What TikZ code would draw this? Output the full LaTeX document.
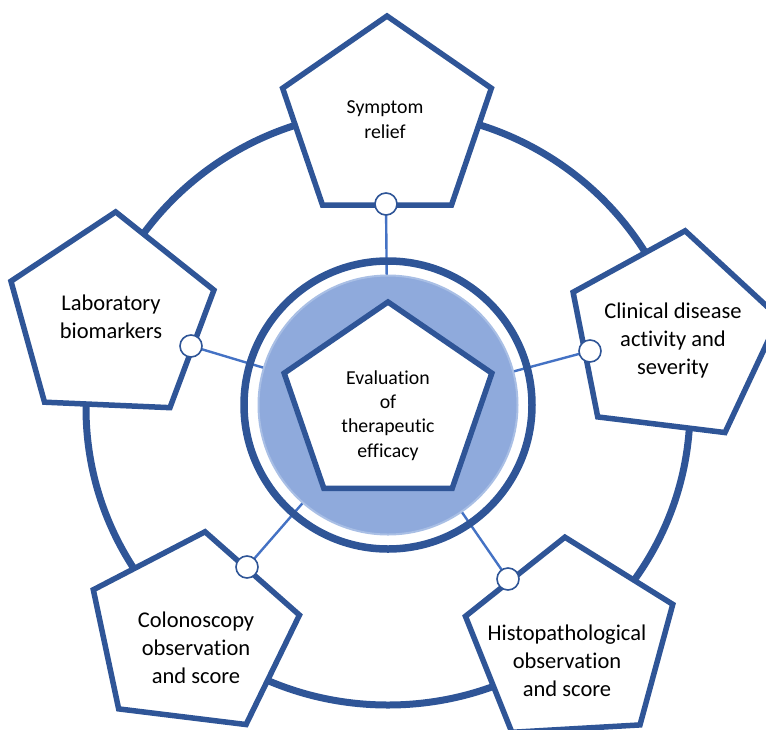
\documentclass[tikz,border=0pt]{standalone}
\usepackage{fontspec}
\setmainfont{Carlito}[Ligatures={NoCommon}]
\usetikzlibrary{shapes.geometric}
\definecolor{ringblue}{HTML}{2F5597}
\definecolor{linkblue}{HTML}{4472C4}
\definecolor{diskblue}{HTML}{8FAADC}
\definecolor{diskrim}{HTML}{A9BFE5}

\begin{document}
\begin{tikzpicture}[x=1pt,y=-1pt,
  pent/.style={regular polygon, regular polygon sides=5, draw=ringblue,
    line width=5.5pt, fill=white, inner sep=0pt, line join=miter},
  knob/.style={circle, draw=ringblue, line width=1.6pt, fill=white,
    minimum size=22pt, inner sep=0pt},
  link/.style={draw=linkblue, line width=2.4pt},
  bigtxt/.style={font=\fontsize{22.5}{28}\selectfont, align=center, inner sep=0pt},
  smalltxt/.style={font=\fontsize{19.8}{24.4}\selectfont, align=center, inner sep=0pt}]

\useasboundingbox (0,0) rectangle (766,729);
\coordinate (hub) at (388,405);

% outer ring joining the five satellites
\draw[ringblue, line width=7pt] (388,408) ellipse [x radius=302, y radius=297];

% spokes from the satellites to the hub
\coordinate (kTop) at (386,204);
\coordinate (kLab) at (191,346);
\coordinate (kCli) at (590,351);
\coordinate (kHis) at (508,579);
\coordinate (kCol) at (247,567);
\foreach \k in {kTop,kLab,kCli,kHis,kCol} \draw[link] (\k) -- (hub);

% central disk and its ring
\node (disk) at (hub) [circle, fill=diskblue, draw=diskrim, line width=2pt,
  minimum size=259pt, inner sep=0pt] {};
\draw[ringblue, line width=7.5pt] (hub) circle [radius=144];

% central pentagon
\node (core) at (388,405) [pent, minimum size=206pt, xscale=1.06, transform shape] {};

% satellite pentagons
\node (sym) at (387,120.5) [pent, minimum size=209pt, xscale=1.05, transform shape] {};
\node (lab) at (111,318.6) [pent, minimum size=213.6pt, rotate=-2.5, transform shape] {};
\node (cli) at (672,338) [pent, minimum size=216pt, rotate=-7, xscale=1.01, transform shape] {};
\node (his) at (571,643) [pent, minimum size=212pt, rotate=3.3, xscale=1.03, transform shape] {};
\node (col) at (192.5,634) [pent, minimum size=206pt, rotate=-7, xscale=1.06, transform shape] {};

% joints where the spokes meet the satellites
\foreach \k in {kTop,kLab,kCli,kHis,kCol} \node[knob] (n\k) at (\k) {};

% labels
\node[smalltxt] (tSym) at (385,119.5) {Symptom\\relief};
\node[bigtxt] (tLab) at (111,316.5) {Laboratory\\biomarkers};
\node[bigtxt] (tCli) at (673,340) {Clinical disease\\activity and\\severity};
\node[bigtxt] (tHis) at (567,661) {Histopathological\\observation\\and score};
\node[bigtxt] (tCol) at (196,648) {Colonoscopy\\observation\\and score};
\node[smalltxt] (tCore) at (388,415.5) {Evaluation\\of\\therapeutic\\efficacy};
\end{tikzpicture}
\end{document}
